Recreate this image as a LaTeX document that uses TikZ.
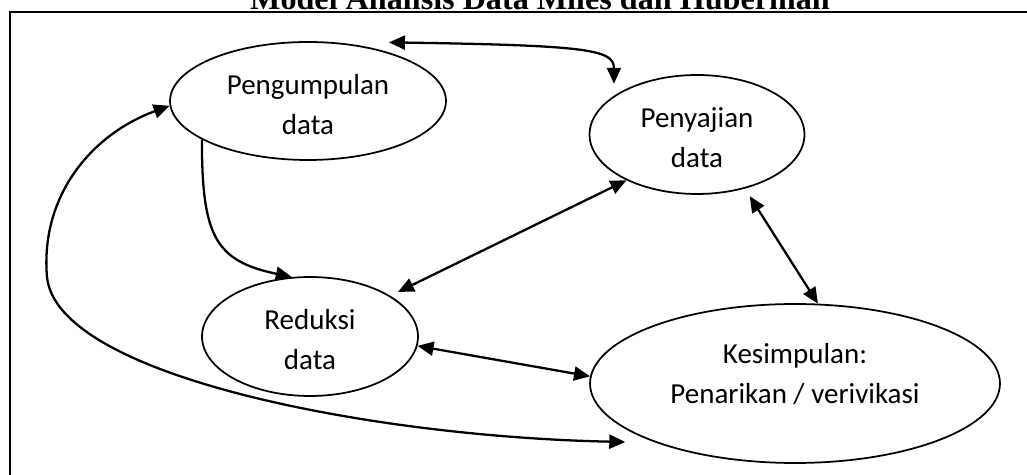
\documentclass[tikz,border=0pt]{standalone}
\usepackage{fontspec}
\setmainfont{Carlito}
\newfontfamily\judulfont{Liberation Serif}
\usetikzlibrary{shapes,arrows.meta}

\begin{document}
\begin{tikzpicture}[x=0.02cm,y=-0.02cm,
  >={Triangle[length=0.32cm,width=0.28cm]},
  tahap/.style={ellipse,draw,line width=1pt,inner sep=0pt,align=center,font=\fontsize{16.5}{22.8}\selectfont},
  panah/.style={line width=1.3pt}]
\useasboundingbox (0,0) rectangle (1027,475);
\clip (0,0) rectangle (1027,475);

\node[anchor=base,font=\judulfont\bfseries\fontsize{18.3}{20}\selectfont] (judul) at (540,9.5) {Model Analisis Data Miles dan Huberman};
\draw[line width=0.9pt] (1040,12) to (10,12) to (10,490);

\node[tahap,minimum width=5.52cm,minimum height=2.36cm] (kumpul) at (308,101) {\rule{0pt}{15pt}Pengumpulan\\data};
\node[tahap,minimum width=4.3cm,minimum height=2.38cm] (saji) at (697,134.5) {\rule{0pt}{15pt}Penyajian\\data};
\node[tahap,minimum width=4.32cm,minimum height=2.38cm] (reduksi) at (310,336.5) {\rule{0pt}{15pt}Reduksi\\data};
\node[tahap,minimum width=8.2cm,minimum height=3.18cm] (simpul) at (795,383.5) {Kesimpulan:\\Penarikan / verivikasi\rule[-11pt]{0pt}{0pt}};
\coordinate (belok) at (47,277);

\draw[panah,<->] ([yshift=0.2cm]kumpul.31) .. controls +(200,3) and +(0,-34) .. ([yshift=0.24cm]saji.155);
\draw[panah,->] (kumpul.200) .. controls +(0,96) and +(-77,-16) .. (reduksi.107);
\draw[panah,<->] ([yshift=0.18cm]reduksi.22) to (saji.-147);
\draw[panah,<->] ([yshift=-0.18cm]saji.-45) to (simpul.74);
\draw[panah,<->] (reduksi.-5) to (simpul.178);
\draw[panah,<->] ([yshift=-0.26cm]simpul.195) .. controls +(-250,-5) and +(10,100) .. (belok) .. controls +(-7,-82) and +(-77,28) .. (kumpul.182);
\end{tikzpicture}
\end{document}
